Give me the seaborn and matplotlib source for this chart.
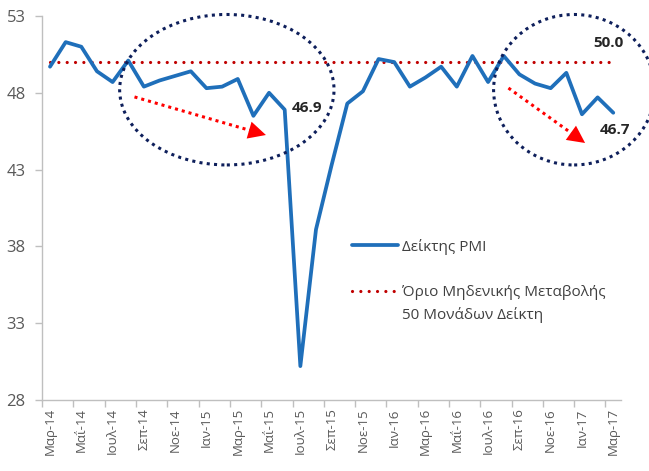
import numpy as np
import pandas as pd
import matplotlib.pyplot as plt
import seaborn as sns
from matplotlib.patches import Ellipse

# Δείκτης PMI μεταποίησης, Μάρτιος 2014 - Μάρτιος 2017
months = ['Μαρ-14', 'Απρ-14', 'Μαΐ-14', 'Ιουν-14', 'Ιουλ-14', 'Αυγ-14', 'Σεπ-14', 'Οκτ-14',
          'Νοε-14', 'Δεκ-14', 'Ιαν-15', 'Φεβ-15', 'Μαρ-15', 'Απρ-15', 'Μαΐ-15', 'Ιουν-15',
          'Ιουλ-15', 'Αυγ-15', 'Σεπ-15', 'Οκτ-15', 'Νοε-15', 'Δεκ-15', 'Ιαν-16', 'Φεβ-16',
          'Μαρ-16', 'Απρ-16', 'Μαΐ-16', 'Ιουν-16', 'Ιουλ-16', 'Αυγ-16', 'Σεπ-16', 'Οκτ-16',
          'Νοε-16', 'Δεκ-16', 'Ιαν-17', 'Φεβ-17', 'Μαρ-17']
pmi = [49.7, 51.3, 51.0, 49.4, 48.7, 50.1, 48.4, 48.8, 49.1, 49.4,
       48.3, 48.4, 48.9, 46.5, 48.0, 46.9, 30.2, 39.1, 43.3, 47.3, 48.1, 50.2,
       50.0, 48.4, 49.0, 49.7, 48.4, 50.4, 48.7, 50.4, 49.2, 48.6, 48.3, 49.3,
       46.6, 47.7, 46.7]
threshold = 50.0
yticks = [28, 33, 38, 43, 48, 53]

df = pd.DataFrame({'pos': np.arange(len(months)), 'month': months, 'pmi': pmi})
df['limit'] = threshold

sns.set_theme(style='white')
plt.rcParams['font.family'] = ['Open Sans', 'DejaVu Sans']

fig, ax = plt.subplots(figsize=(6.49, 4.71), dpi=100)
fig.subplots_adjust(left=0.065, right=0.957, top=0.966, bottom=0.151)

sns.lineplot(data=df, x='pos', y='limit', ax=ax, color='#c00000', lw=2.3,
             linestyle=(0, (0.01, 2.6)), dash_capstyle='round',
             label='Όριο Μηδενικής Μεταβολής', zorder=2)
sns.lineplot(data=df, x='pos', y='pmi', ax=ax, color='#1f6fba', lw=2.7,
             solid_joinstyle='round', label='Δείκτης PMI', zorder=3)

# άξονες
ax.set_xlim(-0.5, len(months) - 0.5)
ax.set_ylim(28, 53)
ax.set_yticks(yticks)
ax.set_xticks(df['pos'][::2])
ax.set_xticklabels(df['month'][::2], rotation=90)
ax.set_xticks(np.arange(-0.5, len(months) - 1, 2), minor=True)
ax.set_xlabel('')
ax.set_ylabel('')
ax.tick_params(axis='x', which='major', length=0, pad=6, labelsize=9.5, labelcolor='#595959')
ax.tick_params(axis='x', which='minor', bottom=True, length=5, color='#bfbfbf', width=1)
ax.tick_params(axis='y', left=True, length=5, color='#bfbfbf', width=1, pad=7,
               labelsize=12, labelcolor='#595959')
for side in ['top', 'right']:
    ax.spines[side].set_visible(False)
for side in ['left', 'bottom']:
    ax.spines[side].set_color('#bfbfbf')
    ax.spines[side].set_linewidth(1)

# σχόλια: ελλείψεις, βέλη, τιμές
navy = '#0e1f5b'
ax.add_patch(Ellipse((11.3, 48.2), 13.7, 9.8, fill=False, ec=navy, lw=2.2,
                     ls=(0, (1, 1.4)), clip_on=False, zorder=4))
ax.add_patch(Ellipse((33.5, 48.2), 10.3, 9.8, fill=False, ec=navy, lw=2.2,
                     ls=(0, (1, 1.4)), clip_on=False, zorder=4))

for (x0, y0), (x1, y1) in [((5.4, 47.73), (13.8, 45.25)), ((29.3, 48.31), (34.2, 44.73))]:
    fx = x0 + 0.88 * (x1 - x0)
    fy = y0 + 0.88 * (y1 - y0)
    ax.plot([x0, fx], [y0, fy], color='red', lw=2.2, ls=(0, (1, 1.3)), zorder=4)
    ax.annotate('', xy=(x1, y1), xytext=(fx, fy),
                arrowprops=dict(arrowstyle='-|>,head_length=0.9,head_width=0.45',
                                color='red', lw=0, mutation_scale=14, shrinkA=0, shrinkB=0),
                zorder=4)

ax.text(16.45, 47.0, '46.9', ha='center', va='center', fontsize=11, fontweight='bold', color='#262626')
ax.text(35.7, 51.24, '50.0', ha='center', va='center', fontsize=11, fontweight='bold', color='#262626')
ax.text(36.1, 45.58, '46.7', ha='center', va='center', fontsize=11, fontweight='bold', color='#262626')

handles, labels = ax.get_legend_handles_labels()
ax.legend(handles[::-1], labels[::-1], loc='upper left', bbox_to_anchor=(0.535, 0.42),
          frameon=False, fontsize=11, handlelength=3.0, handletextpad=0.25,
          labelspacing=2.0, borderpad=0, borderaxespad=0, labelcolor='#404040')
ax.text(0.622, 0.2214, '50 Μονάδων Δείκτη', transform=ax.transAxes, ha='left', va='center',
        fontsize=11, color='#404040')

plt.savefig('out.png', dpi=100)
